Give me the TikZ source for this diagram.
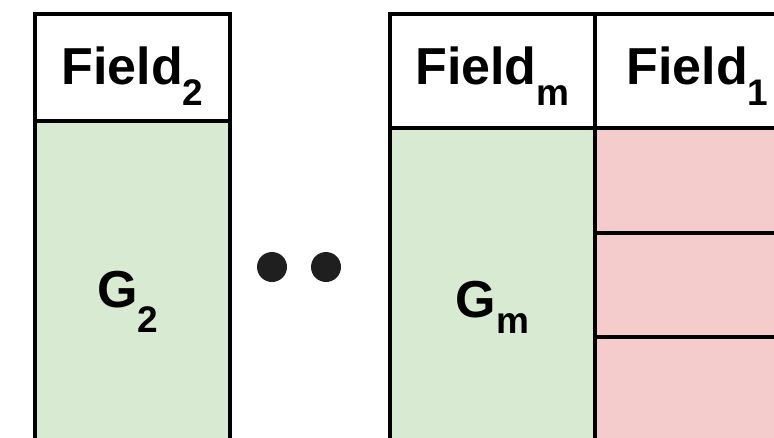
\documentclass[tikz,border=0pt]{standalone}
\usepackage{fontspec}
\setmainfont{Liberation Sans}
\definecolor{gfill}{RGB}{217,234,211}
\definecolor{pfill}{RGB}{244,204,204}
\newcommand{\sub}[2][21pt]{\raisebox{-#1}{\fontsize{37}{40}\selectfont #2}}

\begin{document}
\begin{tikzpicture}[x=1pt, y=-1pt, line width=4pt,
    cell/.style={draw, rectangle, inner sep=0pt, outer sep=0pt, anchor=north west},
    lbl/.style={font=\fontsize{52}{60}\selectfont\bfseries, anchor=base, inner sep=0pt}]
    \useasboundingbox (0,0) rectangle (774,437);
    \clip (0,0) rectangle (774,437);

    % field 2 column
    \node[cell, fill=gfill, minimum width=195pt, minimum height=340pt] (gtwo) at (35,121) {};
    \node[cell, fill=white, minimum width=195pt, minimum height=107pt] (htwo) at (35,14) {};

    % field m column
    \node[cell, fill=gfill, minimum width=205pt, minimum height=340pt] (gm) at (390,128) {};
    \node[cell, fill=white, minimum width=205pt, minimum height=114pt] (hm) at (390,14) {};

    % field 1 column, split in rows
    \foreach \y/\n in {128/a,233/b,337/c}
        \node[cell, fill=pfill, minimum width=205pt, minimum height=105pt] (row\n) at (595,\y) {};
    \node[cell, fill=white, minimum width=205pt, minimum height=114pt] (hone) at (595,14) {};

    % dots in between
    \foreach \x/\n in {272/a,326/b}
        \node[circle, fill=black!88, minimum size=30pt, inner sep=0pt, line width=0pt] (dot\n) at (\x,267) {};

    \node[lbl] (ftwo) at (132.5,84) {Field\sub{2}};
    \node[lbl] (fm) at (492.5,84) {Field\sub{m}};
    \node[lbl] (fone) at (697.5,84) {Field\sub{1}};
    \node[lbl] (gtwolbl) at (128,307) {G\sub[25pt]{2}};
    \node[lbl] (gmlbl) at (492.5,317) {G\sub[16pt]{m}};
\end{tikzpicture}
\end{document}
